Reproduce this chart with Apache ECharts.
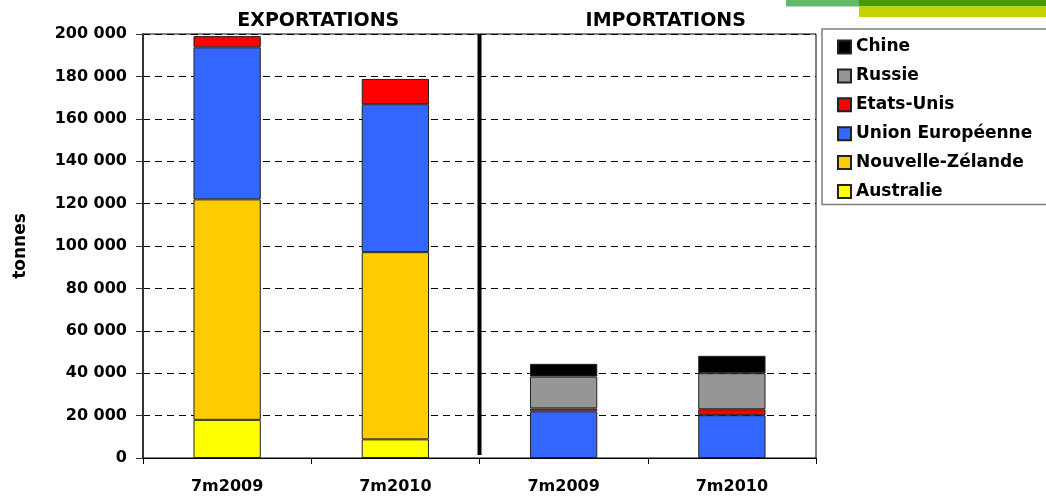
<!DOCTYPE html>
<html><head><meta charset="utf-8">
<script src="https://cdn.jsdelivr.net/npm/echarts@6/dist/echarts.min.js"></script>
<style>html,body{margin:0;padding:0;background:#fff}#c{width:1046px;height:501px}</style>
</head><body><div id="c"></div>
<script>
const categories = ['7m2009', '7m2010', '7m2009', '7m2010'];
const groupTitles = ['EXPORTATIONS', 'IMPORTATIONS'];
const australie = [18000, 8800, null, null];
const nouvelleZelande = [104000, 88300, null, null];
const unionEuropeenne = [71700, 69800, 22000, 20200];
const etatsUnis = [5300, 11900, 1400, 2800];
const russie = [null, null, 15000, 17000];
const chine = [null, null, 6000, 8200];
const legendOrder = ['Chine', 'Russie', 'Etats-Unis', 'Union Européenne', 'Nouvelle-Zélande', 'Australie'];

const FONT = '"DejaVu Sans", Verdana, sans-serif';
const chart = echarts.init(document.getElementById('c'), null, {renderer: 'canvas'});
function mk(name, data, color) {
  return {
    name, type: 'bar', stack: 'total', data, barWidth: '40%',
    itemStyle: {color, borderColor: '#222', borderWidth: 1},
    emphasis: {disabled: true}
  };
}
chart.setOption({
  animation: false,
  grid: {left: 143, right: 230, top: 34, bottom: 43, show: true, borderColor: '#000', borderWidth: 1},
  legend: {
    data: legendOrder, orient: 'vertical', left: 822, top: 29,
    padding: [9.5, 40, 4.5, 15], itemGap: 11.9, itemWidth: 13, itemHeight: 13, icon: 'rect',
    borderColor: '#808080', borderWidth: 1.5,
    textStyle: {fontFamily: FONT, fontWeight: 'bold', fontSize: 17, color: '#000'},
    selectedMode: false
  },
  xAxis: {
    type: 'category', data: categories,
    axisLine: {lineStyle: {color: '#000', width: 1}},
    axisTick: {show: true, length: 6, lineStyle: {color: '#000'}},
    axisLabel: {fontFamily: FONT, fontWeight: 'bold', fontSize: 16, color: '#000', margin: 21}
  },
  yAxis: {
    type: 'value', min: 0, max: 200000, interval: 20000,
    name: 'tonnes', nameLocation: 'middle', nameGap: 114, nameRotate: 90,
    nameTextStyle: {fontFamily: FONT, fontWeight: 'bold', fontSize: 17, color: '#000'},
    axisLine: {show: true, lineStyle: {color: '#333', width: 2}},
    axisTick: {show: true, length: 7, lineStyle: {color: '#333'}},
    axisLabel: {fontFamily: FONT, fontWeight: 'bold', fontSize: 16, color: '#000', margin: 16,
      formatter: v => String(v).replace(/\B(?=(\d{3})+(?!\d))/g, ' ')},
    splitLine: {show: true, lineStyle: {color: '#000', type: [7, 5], width: 1}}
  },
  series: [
    mk('Australie', australie, '#FFFF00'),
    mk('Nouvelle-Zélande', nouvelleZelande, '#FFCC00'),
    mk('Union Européenne', unionEuropeenne, '#3366FF'),
    mk('Etats-Unis', etatsUnis, '#FF0000'),
    mk('Russie', russie, '#969696'),
    mk('Chine', chine, '#000000')
  ]
});

const px = [0, 1, 2, 3].map(i => chart.convertToPixel({xAxisIndex: 0}, i));
const yTop = chart.convertToPixel({yAxisIndex: 0}, 200000);
const yBot = chart.convertToPixel({yAxisIndex: 0}, 0);
const sepX = (px[1] + px[2]) / 2;
chart.setOption({
  graphic: [
    {type: 'rect', shape: {x: 786, y: 0, width: 73, height: 6.5}, style: {fill: '#63B966'}},
    {type: 'rect', shape: {x: 859, y: 0, width: 187, height: 6.5}, style: {fill: '#4E9A06'}},
    {type: 'rect', shape: {x: 859, y: 6.5, width: 187, height: 10.5}, style: {fill: '#C5D300'}},
    {type: 'line', shape: {x1: sepX, y1: yTop, x2: sepX, y2: yBot - 3}, style: {stroke: '#000', lineWidth: 4}, z: 100},
    {type: 'text', x: (px[0] + px[1]) / 2 + 7, y: 21, style: {text: groupTitles[0], fontFamily: FONT, fontWeight: 'bold', fontSize: 19, fill: '#000', align: 'center', verticalAlign: 'middle'}},
    {type: 'text', x: (px[2] + px[3]) / 2 + 18, y: 21, style: {text: groupTitles[1], fontFamily: FONT, fontWeight: 'bold', fontSize: 19, fill: '#000', align: 'center', verticalAlign: 'middle'}}
  ]
});
</script></body></html>
